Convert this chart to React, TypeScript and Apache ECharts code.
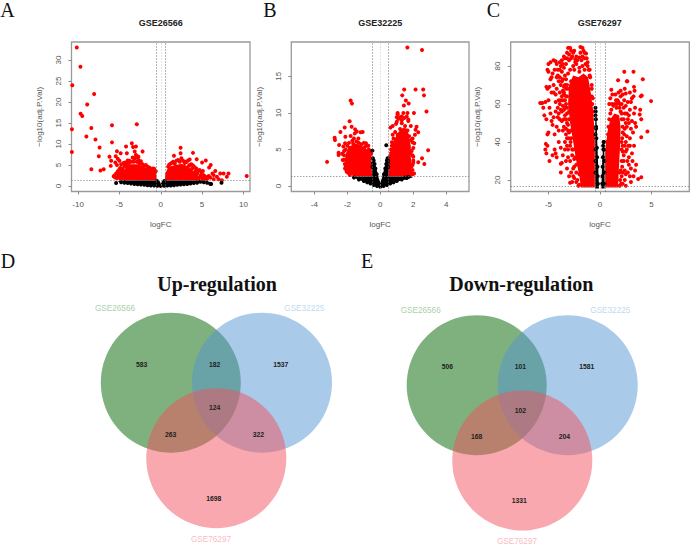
import React, { useEffect, useRef } from "react";
import * as echarts from "echarts";

// Values. The solid mass of each volcano is drawn as an outline read from
// the reference (thousands of overlapping dots cannot be read individually); the dots that can
// be told apart are listed as points.
const titlesTop = ["GSE26566", "GSE32225", "GSE76297"];
const thresholds = [1.3, 1.3, 16.5];
const fcCut = 0.5;

const xTicksA = [-10, -5, 0, 5, 10];
const yTicksA = [0, 5, 10, 15, 20, 25, 30];
const xTicksB = [-4, -2, 0, 2, 4];
const yTicksB = [0, 5, 10, 15];
const xTicksC = [-5, 0, 5];
const yTicksC = [20, 40, 60, 80];

const massRedA = [
  [[-0.5,1.3],[-0.55,3.5],[-1,3.9],[-1.6,4.2],[-2.3,4.9],[-3,5.2],[-3.8,5.2],[-4.5,3.8],[-4.8,2.6],[-4.5,1.8],[-4,1.3]],
  [[0.5,1.3],[0.55,3],[0.8,4],[1.2,4.7],[1.8,5],[2.5,5.3],[3.2,4.8],[4,3.5],[4.5,2.5],[4.8,1.5],[4.5,1.3]],
];
const massBlackA = [
  [[-5,1.3],[-0.45,1.3],[-0.1,0.4],[0,0.15],[0.1,0.4],[0.45,1.3],[5,1.3],[5.3,1.05],[3.5,0.55],[1.5,0.2],[0.4,-0.05],[0,-0.1],[-0.4,-0.05],[-1.5,0.2],[-3.5,0.55],[-5.2,1]],
];
const redA = [
  [-10.16,33],[-9.72,28.4],[-10.7,24],[-8.06,21.9],[-8.9,19.4],[-9.7,17.2],[-9.5,16.7],[-5.9,14.5],[-2.9,14.7],[-10.75,13.5],[-8.4,13.8],[-9,11.8],[-7.9,11.1],[-5.9,10.4],[-7.4,9.2],[-10.75,8.1],[-7.5,7.1],[-8.4,4],[-7.3,3.7],[-6.9,4],[-6.2,7],[-6,6],[-5.45,7.1],[-6.05,4.8],[-5.3,8.3],[-3.5,10.2],[-4.2,9.4],[-3.35,9.3],[-3,9.4],[-3.15,8.2],[-2.2,8.25],[-4.1,7.8],[-4.85,7.8],[-2.7,7],[-3,7.4],
  [-5.2,6.5],[-5,6],[-4.8,5.2],[-4.5,5.5],[-4.3,5.6],[-4.1,5.2],[-4,6.1],[-3.8,6],[-3.6,5.8],[-3.4,6.8],[-3.2,6.5],[-3,6.8],[-2.9,5.8],[-2.7,6.2],[-2.5,5.5],[-2.4,5.9],[-2.2,5.2],[-2,4.8],[-1.8,5],[-1.6,4.6],[-1.4,4.4],[-1.2,4.1],[-1,4.2],[-0.8,4.1],[-0.6,3.5],[-5.5,5.6],[-5.3,5],[-5.6,2.5],[-5.7,2.3],[-5.5,2],[-5.4,3],[-5.2,3.5],[-5,2],[-5,4],[-4.7,3],[-4.6,4.2],[-4.4,2],[-4.3,1.6],[-4.9,1.8],[-5.1,2.8],
  [-5,3],[-4.8,3.5],[-4.9,4.3],[-4.4,4.8],[-4.6,3.4],[-4.8,2.3],[-5.2,2.2],[-5.3,1.9],[-4.6,1.9],[-4.1,4.6],[-3.9,5.4],[-3.3,5.8],[-2.6,5.3],
  [2.4,9.1],[2.4,7.8],[3.9,7.9],[1.6,7.2],[4.35,6.4],[5.45,6.1],[5,5.6],[6.05,5],[5.85,4.4],[6.6,3.6],[6.4,2.6],[7.2,3],[7.6,3],[8.2,3],[8,2.2],[6.8,2.2],[6.25,3],[7,1.6],[7.4,1.4],[6.4,1.6],[10.4,2.4],
  [0.9,4.6],[1,5],[1.1,5.2],[1.3,5.5],[1.5,5.8],[1.7,5.3],[1.9,6],[2.1,6.2],[2.3,5.8],[2.5,6.6],[2.7,6],[2.9,5.5],[3.1,5.7],[3.3,6.1],[3.5,6.3],[3.7,5.2],[3.9,4.9],[4.1,4.5],[4.3,4.2],[4.5,3.5],[4.7,3.8],[4.9,3.2],[5.1,3.6],[5.2,2.6],[5.4,2.2],[5,2.2],[5.3,1.6],[5.6,1.7],[5.8,2.4],[6,2],[4.6,2],[4.2,3.5],[3.5,5],[3,5.8],
  [4.4,3],[4.8,2.5],[4.4,1.8],[5,1.8],[4.2,2.8],[3.8,4.2],[3.4,4.8],
];
const blackA = [
  [-5.4,0.7],[5.97,0.55],[7.35,0.8],[5.6,0.8],[6.1,0.5],[5.2,0.9],[4.8,1],
  [-4.8,0.9],[-4.4,0.8],[-4,0.7],[-3.6,0.6],[-3.2,0.5],[-2.8,0.45],[-2.4,0.35],[-2,0.3],[-1.6,0.2],[-1.2,0.15],[-0.8,0.1],[-0.4,0.05],[0,0.02],[0.4,0.05],[0.8,0.1],[1.2,0.15],[1.6,0.2],[2,0.3],[2.4,0.35],[2.8,0.45],[3.2,0.5],[3.6,0.6],[4,0.7],[4.4,0.8],
  [-0.45,1.2],[-0.35,0.9],[-0.25,0.6],[0.25,0.6],[0.35,0.9],[0.45,1.2],
];

const massRedB = [
  [[-0.5,1.3],[-0.55,4.5],[-0.8,5],[-1.2,5.6],[-1.5,5.8],[-1.9,5.4],[-2.1,4.4],[-2.15,3.5],[-2.1,2.5],[-1.85,1.6],[-1.6,1.3]],
  [[0.5,1.3],[0.5,3],[0.62,4.5],[0.8,6.2],[1.1,7.4],[1.4,8],[1.65,7.8],[1.75,6.5],[1.85,5.5],[1.85,4],[1.9,2.5],[1.8,1.3]],
];
const massBlackB = [
  [[-1.7,1.3],[-0.5,1.3],[-0.5,3.3],[-0.38,3.6],[-0.25,2.5],[-0.1,1.1],[0,0.5],[0.1,1.1],[0.25,2.5],[0.38,3.8],[0.5,3.3],[0.5,1.3],[1.7,1.3],[2,1.2],[1,0.6],[0.3,0],[0,-0.2],[-0.3,0],[-1,0.6],[-1.7,1.2]],
];
const redB = [
  [1.64,18.95],[2.53,18.6],[1.45,13.2],[2.14,13.2],[2.6,13.2],[2.65,12.4],[2.8,10.2],[2.9,4.9],[-3.23,3.3],[-1.8,11.7],[-1.72,11.3],[-1.86,8.85],[1.33,12.4],[1.55,11.7],[1.72,11.3],[1.43,11],[1.05,10],[2.04,10],[1.65,10],[1.4,10],[1,9.4],[1.7,9.1],[2.2,8.1],[2.14,7.7],[2.3,7.35],[2.1,7],[1.96,6.5],[2.06,5.85],[2,5.2],[2.53,3.8],[2.67,3],[2.3,3.25],[1.96,2.9],[2,4],[1.8,4.5],
  [-2.77,6.6],[-2.75,6.3],[-2.42,7.4],[-2.16,8],[-2.5,5.6],[-2.12,6.75],[-1.8,6.85],[-1.53,7.75],[-1.43,7.45],[-1.2,7.35],[-1.07,7.4],[-1.33,6.5],[-1.74,8.1],[-1.55,7.2],[-2.53,4.55],[-2.53,4.25],[-2.24,5.4],[-2.32,4.4],[-2.28,3.55],[-2.14,2.4],[-2.04,1.95],[-0.87,5.85],[-0.73,5.5],[-2.14,5.85],
  [-2.2,4.2],[-2.2,3.6],[-2.15,3],[-2.1,2.7],[-2.05,2.2],[-1.95,1.8],[-1.85,1.5],[-2.1,5],[-2,5.5],[-1.9,5.9],[-1.85,5.2],[-1.7,6.2],[-1.6,6.5],[-1.45,6.1],[-1.3,5.9],[-1.15,5.7],[-1,5.9],[-0.95,5.3],[-0.85,5.5],[-0.7,5],[-0.6,4.8],[-0.55,4.4],[-2.2,4.8],[-1.65,5.8],
  [0.6,3.5],[0.6,4.1],[0.65,4.5],[0.65,5],[0.7,5.5],[0.7,6],[0.8,6.5],[0.75,7],[0.9,7.4],[0.62,8],[0.75,8.2],[0.95,8.5],[1,8.8],[1.1,9.2],[1.2,9.4],[1.3,9.5],[1.45,9.3],[1.6,9.5],[1.7,8.9],[1.85,8.2],[1.3,8.6],[1.5,8.2],[1.2,7.8],[1.4,7.5],[1.65,7.6],[1.75,6.8],[1.85,6.3],[1.95,6],[1.6,7],[1.05,7],[1.9,4.8],[1.95,4.2],[2,3.5],[2,3.2],[1.9,2.7],[1.95,2.2],[1.85,1.9],[1.95,1.6],[1.8,1.4],[2.05,1.7],[1.3,9],[1.05,9.8],
];
const blackB = [
  [0.36,5.57],[-0.48,4.84],[0.44,3.8],[0.46,3.5],[1.7,1.23],[1.5,1.15],[-0.45,3.8],
  [-1.6,1.15],[-1.3,0.9],[-1,0.7],[-0.8,0.5],[-0.6,0.35],[-0.4,0.15],[-0.2,0],[0,-0.1],[0.2,0],[0.4,0.15],[0.6,0.35],[0.8,0.5],[1,0.7],[1.3,0.9],[1.6,1.1],
  [-0.48,2.6],[-0.45,3.1],[-0.4,3.5],[-0.35,3],[-0.3,2.4],[-0.22,1.6],[0.22,1.6],[0.3,2.4],[0.36,3],[0.4,3.5],[0.45,3.1],[0.48,2.6],
];

const massRedC = [
  [[-0.5,16],[-0.5,42],[-0.65,56],[-0.9,66],[-1.15,74],[-1.6,76],[-2.1,74],[-2.6,75],[-3,70],[-3.1,60],[-2.9,50],[-2.6,40],[-2.3,30],[-2,22],[-1.85,16]],
  [[0.5,16],[0.5,35],[0.75,46],[1,52],[1.4,55],[1.85,54],[2,48],[1.95,38],[1.85,28],[1.75,16]],
];
const massBlackC = [
  [[-0.47,15.5],[-0.47,50],[-0.4,58.5],[-0.33,50],[-0.25,38],[-0.18,28],[-0.1,15.5]],
  [[0.13,15.5],[0.2,28],[0.28,36],[0.37,41],[0.42,35],[0.45,15.5]],
];
const redC = [
  [-5.8,60.5],[-5.6,60.5],[-5.5,58],[-5.4,54],[-5.2,52],[-5.3,61],[-5.1,68],[-5,62],[-4.9,58],[-4.8,55],[-4.7,51],[-4.6,49],[-4.5,53],[-4.3,56],[-4.2,48],[-4,46],[-5.25,39],[-5.1,38],[-5.3,36],[-5.2,34],[-4.9,30],[-4.6,33],[-4.4,36],[-4.3,34],[-4.2,32],[-4,40],[-3.8,37],[-3.6,33],[-3.4,40],[-3.2,42],[-3.7,29],[-3.8,28.5],[-3.8,24],[-3.3,30],[-5.1,44],[-5,45],[-5,77],[-5.1,78],[-5,81],[-4.8,82],[-4.5,83],[-4.3,82.5],[-4.2,81],[-4.4,78],[-4.6,76],[-4.7,74],[-4.8,73],[-4.5,70],[-5.2,69],[-4.9,69],[-4.7,66],[-4.5,66],[-4.3,65],[-4.2,68],[-4,72],[-4,62],[-4.3,61],[-4.1,58],[-3.9,60],[-3.7,56],[-3.7,51],[-3.5,48],[-3.3,47],[-3.9,52],[-4.1,53],[-4.4,44],[-3.5,85],[-3.4,84],[-3.7,83],[-3.9,82],[-3.2,87],[-3.1,89.5],[-2.9,89.5],[-2.8,88],[-2.6,87],[-2.5,88],[-2.3,85],[-1.9,90],[-1.7,89.5],[-1.6,88],[-1.5,87],[-1.9,87],[-1.7,85],[-1.5,84],[-1.8,83],[-2,84.5],[-2.8,84],[-3,83],[-3.3,81],[-3.5,79],[-3.7,77],[-3.4,75],[-3.6,73],[-3.8,70],[-3.5,69],[-3.9,66],[-3.5,65],[-3.3,60],[-3.5,57],[-2.9,18.5],[-2,17.5],[-2,23],[-2.3,28],[-2.6,26],[-2.5,31],[-2.7,36],[-3,45],[-2.8,42],[-3.1,36],[-3.2,26],[-3.1,49],[-3.4,54],[-3.6,62],[-3.3,68],[-2.4,82],[-1.2,82],[-1,78],[-0.95,74],[-0.8,68],[-0.7,63],[-2.6,22],[-2.3,19],
  [-0.8,70],[-1,75],[-1.1,78],[-1.2,80],[-1.4,81],[-1.7,80],[-2,79],[-2.3,81],[-2.6,80],[-2.9,78],[-3.1,76],[-3.3,73],[-3.4,70],[-3.5,66],[-3.4,62],[-3.2,58],[-3.3,52],[-3,52],[-3.1,46],[-2.8,46],[-2.9,38],[-2.7,33],[-2.5,27],[-2.3,24],[-2.2,20],[-2.1,17],[-0.75,60],[-0.72,56],[-0.8,64],[-2.8,72],[-3.1,68],[-3.2,64],[-2.5,78],[-2,77],[-1.5,78],[-3,56],[-2.85,40],[-2.6,36],[-2.4,32],
  [-3.2,70],[-3.6,67],[-3.7,64],[-3.8,62],[-3.3,64],[-3.4,58],[-3.6,59],[-3.8,57],[-4,55],[-3.2,55],[-3.5,52],[-3.2,50],[-3.6,46],[-3.3,44],[-3.05,42],[-3.2,38],[-3.4,36],[-3.1,32],[-2.9,30],[-2.8,24],[-3,22],[-2.7,19],[-2.5,21],[-4.1,75],[-3.9,74],[-3.7,72],[-4.2,74],[-3.9,78],[-3.6,81],[-3.8,80],[-4.1,78],[-3.2,84],[-3,86],[-2.7,85],[-2.4,83.5],[-2.2,83],[-1.3,84],[-1.35,86.5],
  [4.95,61.5],[4.6,45.5],[4,42.5],[4.15,73],[3.25,77],[2.35,77],[1.75,72.5],[2.6,72],[2.65,72],[3.3,69],[3.35,67],[3.25,64],[3.95,64],[4.05,64.5],[3.9,57],[3.85,54.5],[4,52],[3.4,58],[3.3,55],[3.4,50],[3.1,51],[3,47],[2.9,57],[3,61],[2.7,61],[2.6,55],[2.5,65.5],[2.2,65],[2,64],[1.8,66],[1.7,62],[1.5,65],[1.1,67.5],[1.2,65],[1,63],[2.35,62],[2.3,58],[2.6,48],[2.6,43],[2.5,40],[2.9,38],[3.1,34],[2.8,32],[2.8,28],[3.5,28],[3.4,25],[3.25,22],[4,21.5],[3.7,20.5],[3,19],[2.5,17],[2.4,20],[2.4,25],[2.3,30],[2.5,35],[2.2,35],[2.2,45],[2.3,52],[2.1,55],[1.9,60],[3.5,48],[0.9,60],[1.4,60],[1.6,58],[2.2,38],
  [0.68,36],[0.7,40],[0.78,44],[0.82,48],[0.9,52],[1,55],[1.1,57],[1.3,59],[1.6,60],[1.9,58],[2.1,52],[2.2,48],[2.15,42],[2.1,36],[2.1,30],[2,25],[1.95,20],[1.9,17],[1.15,60],[2,56],[2.35,44],[2.4,38],[2.3,33],[2.15,27],[2.1,22],[2.05,18],
  [1.9,24],[2.2,24],[2.1,40],[2.4,47],[2.5,50],[2.7,52],[2.4,55],[2.5,59],[2.1,60],[2.8,50],[2.9,42],[2.75,38],[2.6,36],[2.65,30],[2.5,23],[2.7,24],[2.2,18],[1.8,61],[1.55,62],[2.4,68],[2,67],[2.9,66],[3.1,63],[2.8,54],[3.2,45],[3.3,38],[3,26],[2.9,22],[3.15,30],
];
const blackC = [
  [-0.44,54],[-0.38,48],[0.3,38],[0.36,40],
  [-0.2,18],[-0.22,22],[-0.25,27],[-0.28,32],[-0.3,37],[-0.35,42],[-0.38,47],[-0.4,52],[-0.42,56],[-0.44,58],[-0.43,24],[-0.43,30],[-0.43,36],[-0.43,44],
  [0.2,18],[0.22,22],[0.25,27],[0.28,32],[0.32,36],[0.36,40],[0.4,36],[0.42,30],[0.43,24],[0.43,18],
];

const masksRed = [massRedA, massRedB, massRedC];
const masksBlack = [massBlackA, massBlackB, massBlackC];
const pointsRed = [redA, redB, redC];
const pointsBlack = [blackA, blackB, blackC];
const xTicks = [xTicksA, xTicksB, xTicksC];
const yTicks = [yTicksA, yTicksB, yTicksC];
const xRanges = [[-10.8, 10.8], [-5.4, 5.38], [-8.66, 8.66]];
const yRanges = [[-1.3, 34.3], [-0.75, 19.7], [13.95, 92.6]];
const gridBoxes = [[71.5, 178.5], [291.3, 177.7], [510.7, 178.6]];

const vennNames = ["GSE26566", "GSE32225", "GSE76297"];
const vennColors = ["rgba(0,100,0,0.5)", "rgba(83,149,209,0.5)", "rgba(241,81,93,0.5)"];
const vennNameColors = ["#abd0ab", "#c4daef", "#f9bcc1"];
const vennTitles = ["Up-regulation", "Down-regulation"];
const upCounts = [583, 182, 1537, 124, 263, 322, 1698];
const downCounts = [506, 101, 1581, 102, 168, 204, 1331];
const panelLetters = ["A", "B", "C", "D", "E"];

const SANS = "Liberation Sans";
const SERIF = "Liberation Serif";

function massSeries(poly: number[][], idx: number, color: string) {
  return {
    type: "custom",
    xAxisIndex: idx,
    yAxisIndex: idx,
    data: poly,
    silent: true,
    clip: true,
    z: 2,
    renderItem: (params: any, api: any) =>
      params.dataIndex === 0
        ? { type: "polygon", shape: { points: poly.map((p) => api.coord(p)) }, style: { fill: color } }
        : null,
  };
}

function dots(data: number[][], idx: number, color: string, extra = {}) {
  return {
    type: "scatter",
    xAxisIndex: idx,
    yAxisIndex: idx,
    data,
    symbol: "circle",
    symbolSize: 4,
    itemStyle: { color, opacity: 1 },
    silent: true,
    z: 3,
    ...extra,
  };
}

function vennGraphics(cx: number[], cy: number[], pos: number[][], namePos: number[][], counts: number[]) {
  const out: any[] = [];
  cx.forEach((x, i) =>
    out.push({ type: "circle", x, y: cy[i], shape: { cx: 0, cy: 0, r: 70 }, style: { fill: vennColors[i] }, silent: true })
  );
  counts.forEach((c, i) =>
    out.push({
      type: "text",
      x: pos[i][0],
      y: pos[i][1],
      style: { text: String(c), fill: "#222", font: `bold 6.8px "${SANS}"`, textAlign: "center", textVerticalAlign: "middle" },
    })
  );
  vennNames.forEach((n, i) =>
    out.push({
      type: "text",
      x: namePos[i][0],
      y: namePos[i][1],
      style: { text: n, fill: vennNameColors[i], font: `8.2px "${SANS}"`, textAlign: "center", textVerticalAlign: "middle" },
    })
  );
  return out;
}

export default function App() {
  const ref = useRef<HTMLDivElement>(null);
  useEffect(() => {
    document.body.style.margin = "0";
    const chart = echarts.init(ref.current!, undefined, { renderer: "svg" });
    const grids = gridBoxes.map(([left, width]) => ({
      left,
      width,
      top: 42,
      height: 149.5,
      show: true,
      borderColor: "#9a9a9a",
      borderWidth: 1.3,
      backgroundColor: "#fff",
    }));
    const axisBase = {
      type: "value",
      splitLine: { show: false },
      axisLine: { show: false, onZero: false },
      nameTextStyle: { fontFamily: SANS, fontSize: 8, color: "#555" },
    };
    const xAxes = gridBoxes.map((_, i) => ({
      ...axisBase,
      gridIndex: i,
      min: xRanges[i][0],
      max: xRanges[i][1],
      name: "logFC",
      nameLocation: "middle",
      nameGap: 29,
      axisTick: { show: true, length: 3, customValues: xTicks[i], lineStyle: { color: "#8a8a8a" } },
      axisLabel: { customValues: xTicks[i], margin: 9, fontFamily: SANS, fontSize: 8, color: "#555" },
    }));
    const yAxes = gridBoxes.map((_, i) => ({
      ...axisBase,
      gridIndex: i,
      min: yRanges[i][0],
      max: yRanges[i][1],
      name: "\u2212log10(adj.P.Val)",
      nameLocation: "middle",
      nameGap: i === 2 ? 29.5 : 28,
      axisTick: { show: true, length: 3, customValues: yTicks[i], lineStyle: { color: "#8a8a8a" } },
      axisLabel: { customValues: yTicks[i], rotate: 90, margin: 9, fontFamily: SANS, fontSize: 8, color: "#555" },
    }));
    const series: any[] = [];
    gridBoxes.forEach((_, i) => {
      masksRed[i].forEach((p) => series.push(massSeries(p, i, "#f00")));
      series.push(
        dots(pointsRed[i], i, "#f00", {
          markLine: {
            silent: true,
            symbol: "none",
            animation: false,
            z: 5,
            label: { show: false },
            lineStyle: { type: [1, 2], width: 1 },
            data: [
              { xAxis: 0, lineStyle: { color: "#c8c8c8", type: [1, 2], width: 1 } },
              { xAxis: -fcCut, lineStyle: { color: "#666", type: [1, 2], width: 1 } },
              { xAxis: fcCut, lineStyle: { color: "#666", type: [1, 2], width: 1 } },
              { yAxis: thresholds[i], lineStyle: { color: "#777", type: [1, 2], width: 1 } },
            ],
          },
        })
      );
      masksBlack[i].forEach((p) => series.push({ ...massSeries(p, i, "#000"), z: 4 }));
      series.push(dots(pointsBlack[i], i, "#000", { z: 4 }));
    });

    const titleCenters = [160.7, 380.3, 599.7];
    const titles: any[] = titlesTop.map((t, i) => ({
      text: t,
      left: titleCenters[i],
      top: 18,
      padding: 0,
      textAlign: "center",
      textStyle: { fontFamily: SANS, fontSize: 9, fontWeight: "bold", color: "#222" },
    }));
    [217, 521.3].forEach((left, i) =>
      titles.push({
        text: vennTitles[i],
        left,
        top: 274,
        padding: 0,
        textAlign: "center",
        textStyle: { fontFamily: SERIF, fontSize: 20, fontWeight: "bold", color: "#111" },
      })
    );
    const letterPos = [[7.5, 10], [270, 10], [493.5, 10], [8, 261], [367, 261]];
    const letters = panelLetters.map((t, i) => ({
      type: "text",
      x: letterPos[i][0],
      y: letterPos[i][1],
      style: { text: t, fill: "#111", font: `20px "${SERIF}"`, textAlign: "center", textVerticalAlign: "middle" },
    }));
    chart.setOption({
      animation: false,
      backgroundColor: "#fff",
      title: titles,
      grid: grids,
      xAxis: xAxes,
      yAxis: yAxes,
      series,
      graphic: {
        elements: [
          ...letters,
          ...vennGraphics(
            [170.8, 262, 216.3],
            [382.7, 382.7, 458.2],
            [[141.7, 364], [214.7, 364], [280.7, 364], [214.7, 407.7], [170.7, 434], [258.3, 434], [213.7, 498.3]],
            [[115, 308], [304.3, 308], [211, 539]],
            upCounts
          ),
          ...vennGraphics(
            [476.7, 567.7, 522.3],
            [385.2, 385.2, 460.5],
            [[447.3, 366.7], [520.3, 366.7], [586.7, 366.7], [520.3, 410.3], [476.7, 436.3], [564.3, 436.3], [519.3, 500.3]],
            [[420.7, 310.7], [610.3, 310.7], [517, 541]],
            downCounts
          ),
        ],
      },
    });
    return () => chart.dispose();
  }, []);
  return <div ref={ref} style={{ width: 690, height: 544 }} />;
}
